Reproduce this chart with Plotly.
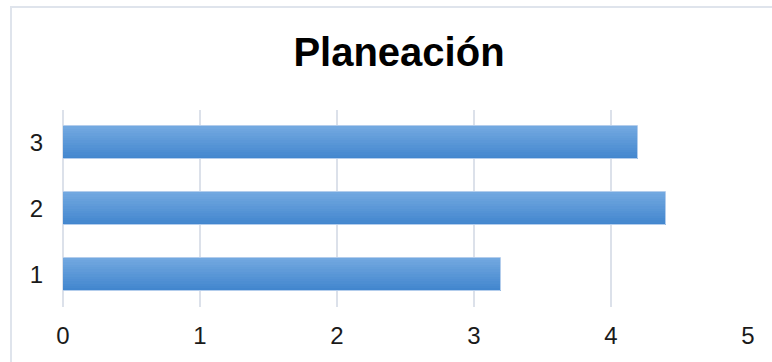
import plotly.graph_objects as go

# Chart data
categories = ["1", "2", "3"]
scores = [3.2, 4.4, 4.2]
x_ticks = [0, 1, 2, 3, 4, 5]
chart_title = "Planeación"

W, H = 772, 362
M_L, M_R, M_T, M_B = 63, 24, 110, 55
PLOT_W = W - M_L - M_R
PLOT_H = H - M_T - M_B

BAR_W = 0.5
N_SLICES = 14
TOP_RGB = (114, 168, 224)
BOT_RGB = (66, 134, 206)


def mix(a, b, t):
    return "rgb({},{},{})".format(*[round(a[i] + (b[i] - a[i]) * t) for i in range(3)])


fig = go.Figure()

# Vertical gradient on each bar: darker at the bottom, lighter towards the top.
for k in range(N_SLICES):
    start = -BAR_W / 2 + k * BAR_W / N_SLICES
    fig.add_trace(go.Bar(
        y=categories, x=scores, orientation="h",
        width=BAR_W / 2 - start, offset=start,
        marker=dict(color=mix(BOT_RGB, TOP_RGB, k / (N_SLICES - 1)), line=dict(width=0)),
        hoverinfo="skip", showlegend=False,
    ))

# Thin pale outline around each bar
fig.add_trace(go.Bar(
    y=categories, x=scores, orientation="h",
    width=BAR_W, offset=-BAR_W / 2,
    marker=dict(color="rgba(0,0,0,0)", line=dict(color="#b3cdec", width=1)),
    showlegend=False,
))


def px_to_paper_x(px):
    return (px - M_L) / PLOT_W


def px_to_paper_y(py):
    return (H - M_B - py) / PLOT_H


# Outer chart frame
fig.add_shape(
    type="rect", xref="paper", yref="paper",
    x0=px_to_paper_x(11), x1=px_to_paper_x(790),
    y0=px_to_paper_y(380), y1=px_to_paper_y(7),
    line=dict(color="#dfe4ec", width=2), fillcolor="rgba(0,0,0,0)", layer="below",
)

fig.update_layout(
    width=W, height=H,
    margin=dict(l=M_L, r=M_R, t=M_T, b=M_B, pad=0),
    paper_bgcolor="white", plot_bgcolor="white",
    barmode="overlay", bargap=0,
    font=dict(family="Liberation Sans, Arial, sans-serif", color="#1a1a1a", size=24),
    title=dict(
        text="<b>" + chart_title + "</b>",
        font=dict(size=40, color="#000000", family="Liberation Sans, Arial, sans-serif"),
        x=px_to_paper_x(399), xref="paper", xanchor="center",
        y=1 - 52 / H, yref="container", yanchor="middle",
    ),
    xaxis=dict(
        range=[0, 5], tickvals=x_ticks, ticktext=[str(v) for v in x_ticks],
        showgrid=True, gridcolor="#dce1ea", gridwidth=2,
        zeroline=True, zerolinecolor="#dce1ea", zerolinewidth=2,
        showline=False, ticks="", ticklabelstandoff=12,
        tickfont=dict(size=24),
    ),
    yaxis=dict(
        range=[0.5 - 1, 3.5 - 1], type="category",
        showgrid=False, zeroline=False, showline=False,
        ticks="", ticklabelstandoff=19, tickfont=dict(size=24),
    ),
)

fig.write_html("out.html")
